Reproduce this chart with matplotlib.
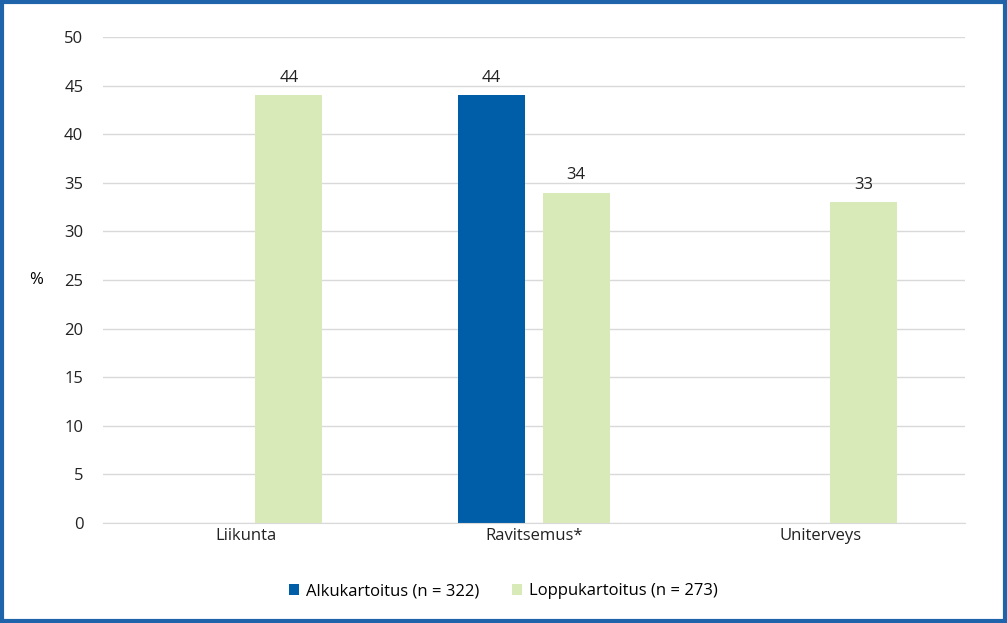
import numpy as np
import matplotlib
matplotlib.use("Agg")
import matplotlib.pyplot as plt
from matplotlib.patches import Rectangle

categories = ["Liikunta", "Ravitsemus*", "Uniterveys"]
alku = [np.nan, 44, np.nan]
loppu = [44, 34, 33]
series_labels = ["Alkukartoitus (n = 322)", "Loppukartoitus (n = 273)"]
yticks = list(range(0, 55, 5))

plt.rcParams['font.family'] = ['Open Sans', 'DejaVu Sans']
fig = plt.figure(figsize=(10.07, 6.23), dpi=100)
ax = fig.add_axes([0.102, 0.1605, 0.856, 0.78])
x = np.arange(len(categories))
w = 0.233
off = 0.148
b1 = ax.bar(x - off, alku, w, color="#005EA8", label=series_labels[0])
b2 = ax.bar(x + off, loppu, w, color="#D9EAB9", label=series_labels[1])
for bars, vals in ((b1, alku), (b2, loppu)):
    for r, v in zip(bars, vals):
        if not np.isnan(v):
            ax.text(r.get_x() + r.get_width()/2, v + 1, f"{v:.0f}", ha="center", va="bottom", fontsize=12, color="#222222")
ax.set_xlim(-0.5, 2.5)
ax.set_ylim(0, 50)
ax.set_yticks(yticks)
ax.set_xticks(x)
ax.set_xticklabels(categories)
ax.tick_params(axis='both', length=0, labelsize=12, colors="#222222")
ax.tick_params(axis='y', pad=14)
ax.grid(axis='y', color="#D9D9D9", linewidth=1)
ax.set_axisbelow(True)
for s in ["top", "right", "left"]:
    ax.spines[s].set_visible(False)
ax.spines["bottom"].set_color("#D9D9D9")
ax.set_ylabel("%", rotation=0, fontsize=12, labelpad=20, va="center")
fig.legend(handles=[b1, b2], labels=series_labels, loc="center", bbox_to_anchor=(0.5, 0.051), ncol=2, frameon=False,
           fontsize=12, handlelength=0.6, handleheight=0.6, columnspacing=2.0, handletextpad=0.4)
fig.patches.append(Rectangle((0.0015, 0.0025), 0.997, 0.995, transform=fig.transFigure, fill=False,
                             edgecolor="#1F64AA", linewidth=3))
fig.savefig("out.png", dpi=100)
